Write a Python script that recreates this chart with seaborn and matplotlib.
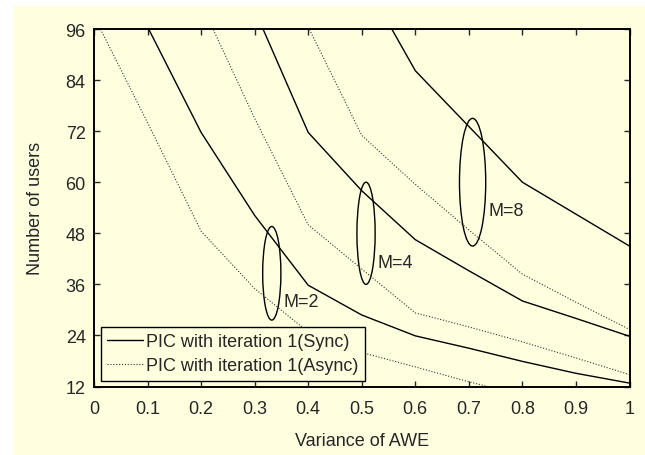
import numpy as np
import pandas as pd
import matplotlib
matplotlib.use("Agg")
import matplotlib.pyplot as plt
from matplotlib.patches import Ellipse, Rectangle
from matplotlib.lines import Line2D
import seaborn as sns

# ---- data ----
x_grid = [0.0, 0.1, 0.2, 0.3, 0.4, 0.5, 0.6, 0.7, 0.8, 0.9, 1.0]
sync_m2 = [np.nan, 96.5, 71.7, 52.2, 35.8, 28.8, 23.9, 21.0, 17.9, 15.1, 12.8]
async_m2 = [99.0, 74.0, 48.5, 35.0, 24.8, 20.0, 16.6, 13.1, 10.0, np.nan, np.nan]
sync_m4 = [np.nan, np.nan, np.nan, 100.5, 71.7, 58.0, 46.5, 39.2, 32.1, 28.0, 23.8]
async_m4 = [np.nan, np.nan, 102.0, 75.0, 50.0, 39.6, 29.3, 26.0, 22.5, 18.7, 14.8]
sync_m8 = [np.nan, np.nan, np.nan, np.nan, np.nan, 108.5, 86.2, 73.1, 60.0, 52.5, 45.0]
async_m8 = [np.nan, np.nan, np.nan, np.nan, 96.5, 71.0, 59.5, 48.8, 38.4, 31.8, 25.4]

x_ticks = [0, 0.1, 0.2, 0.3, 0.4, 0.5, 0.6, 0.7, 0.8, 0.9, 1]
x_tick_labels = ["0", "0.1", "0.2", "0.3", "0.4", "0.5", "0.6", "0.7", "0.8", "0.9", "1"]
y_ticks = [12, 24, 36, 48, 60, 72, 84, 96]
legend_labels = ["PIC with iteration 1(Sync)", "PIC with iteration 1(Async)"]
group_labels = ["M=2", "M=4", "M=8"]
# ellipse annotations: (center x, center y, width, height), label position
ellipse_specs = [(0.332, 38.6, 0.034, 22.0), (0.508, 48.0, 0.034, 24.0), (0.707, 60.0, 0.049, 30.0)]
label_pos = [(0.353, 31.9), (0.529, 41.1), (0.736, 53.4)]

series = {
    ("M=2", "Sync"): sync_m2, ("M=2", "Async"): async_m2,
    ("M=4", "Sync"): sync_m4, ("M=4", "Async"): async_m4,
    ("M=8", "Sync"): sync_m8, ("M=8", "Async"): async_m8,
}
rows = []
for (m, mode), vals in series.items():
    for xv, yv in zip(x_grid, vals):
        if not np.isnan(yv):
            rows.append({"var": xv, "users": yv, "M": m, "mode": mode})
df = pd.DataFrame(rows)

# ---- figure ----
bg = "#FFFFE0"
sns.set_style("ticks")
plt.rcParams["font.family"] = ["Liberation Sans", "DejaVu Sans"]
FS = 13

fig = plt.figure(figsize=(6.45, 4.56), dpi=100, facecolor="white")
fig.patches.append(Rectangle((13 / 645, 0), 1, 1 - 7 / 456, transform=fig.transFigure,
                             facecolor=bg, edgecolor="none", zorder=-10))
ax = fig.add_axes([94 / 645, 1 - 387.5 / 456, 535.5 / 645, 357.5 / 456])
ax.set_facecolor(bg)

sns.lineplot(data=df, x="var", y="users", units="M", style="mode", estimator=None,
             sort=False, color="black", dashes={"Sync": "", "Async": (1, 1.6)},
             linewidth=1.0, legend=False, ax=ax)

for line in ax.get_lines():
    if line.get_linestyle() != "-":
        line.set_linewidth(0.8)
        line.set_color("#333333")

for (cx, cy, w, h), (lx, ly), lab in zip(ellipse_specs, label_pos, group_labels):
    ax.add_patch(Ellipse((cx, cy), w, h, fill=False, edgecolor="black", linewidth=1.0))
    ax.text(lx, ly, lab, fontsize=FS, va="center", ha="left")

ax.set_xlim(0, 1)
ax.set_ylim(12, 96)
ax.set_xticks(x_ticks)
ax.set_xticklabels(x_tick_labels)
ax.set_yticks(y_ticks)
ax.tick_params(direction="in", top=True, right=True, length=4.5, width=1,
               labelsize=FS)
ax.tick_params(axis="x", pad=10)
ax.tick_params(axis="y", pad=6)
for sp in ax.spines.values():
    sp.set_visible(True)
    sp.set_linewidth(1.4)
    sp.set_color("black")

ax.set_xlabel("Variance of AWE", fontsize=FS)
ax.set_ylabel("Number of users", fontsize=FS)
ax.xaxis.set_label_coords(0.5, -0.128)
ax.yaxis.set_label_coords(-0.094, 0.5)

handles = [Line2D([], [], color="black", linewidth=1.0),
           Line2D([], [], color="#333333", linewidth=0.8, linestyle=(0, (1, 1.6)))]
leg = ax.legend(handles, legend_labels, loc="lower left", bbox_to_anchor=(0.0125, 0.016),
                fontsize=FS, frameon=True, fancybox=False, framealpha=1,
                edgecolor="black", facecolor=bg, handlelength=2.0, handletextpad=0.15,
                borderpad=0.35, labelspacing=0.42, borderaxespad=0)
leg.get_frame().set_linewidth(1.0)

fig.savefig("out.png", dpi=100, facecolor="white")
